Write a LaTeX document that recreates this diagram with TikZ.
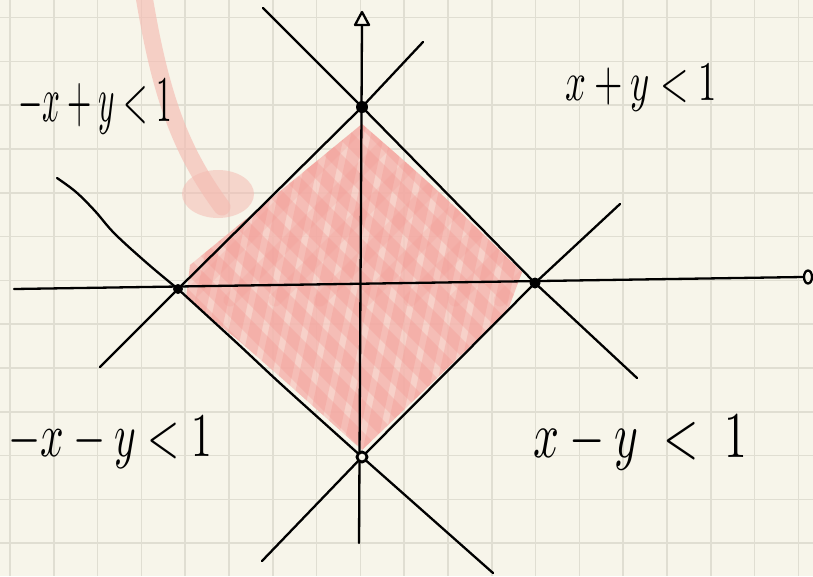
\documentclass[tikz,border=0pt]{standalone}
\usepackage{graphicx}
\definecolor{paper}{HTML}{F7F5EA}
\definecolor{gridc}{HTML}{E0DED2}
\definecolor{pinkbase}{HTML}{F7C9C1}
\definecolor{pinkstroke}{HTML}{F3928C}
\definecolor{pinkcurve}{HTML}{F4BBB2}
\tikzset{
  gridline/.style={gridc, line width=1.6pt},
  ink/.style={black, line width=2.3pt, line cap=round, line join=round},
  scribble/.style={pinkstroke, opacity=0.3, line width=13pt, line cap=round},
  vdot/.style={circle, fill=black, inner sep=0pt, minimum size=12pt},
  vring/.style={circle, draw=black, line width=2.8pt, fill=paper, inner sep=0pt, minimum size=10pt},
  lbl/.style={anchor=base west, inner sep=0pt},
}
\begin{document}
\begin{tikzpicture}[x=1pt, y=-1pt]
\useasboundingbox (0,0) rectangle (813,576);
\fill[paper] (0,0) rectangle (813,576);
% grid
\foreach \k in {0,...,18} \draw[gridline] ({10+43.8*\k},0) -- ({10+43.8*\k},576);
\foreach \k in {0,...,12} \draw[gridline] (0,{17.5+43.8*\k}) -- (813,{17.5+43.8*\k});

% key points
\coordinate (T) at (362,107);
\coordinate (R) at (535,283);
\coordinate (B) at (362,457);
\coordinate (L) at (178,289);

% red pointer curve and blob
\draw[pinkcurve, opacity=0.65, line width=17pt, line cap=round]
  (143,-10) .. controls (160,95) and (180,150) .. (222,207);
\fill[pinkcurve, opacity=0.55] (218,194) ellipse [x radius=36, y radius=24];

% red scribble fill
\begin{scope}
  \clip (362,124) .. controls (440,192) .. (522,272) -- (508,310) -- (362,450) -- (286,382) -- (238,340) -- (186,298) -- (190,265) -- cycle;
  \fill[pinkbase, opacity=0.8] (0,0) rectangle (813,576);
  \foreach \i in {0,...,18} \draw[scribble] ({165+\i*20},470) -- ({245+\i*20},100);
  \foreach \c in {-110,-78,...,260} \draw[scribble] ({100+\c},100) -- ({520+\c},520);
  \foreach \c in {440,485,...,900} \draw[scribble, opacity=0.18] ({\c-300},300) -- ({\c-100},100);
\end{scope}

% ends of the four lines
\coordinate (a1) at (263,8);   \coordinate (a2) at (637,378);
\coordinate (b1) at (423,42);  \coordinate (b2) at (100,367);
\coordinate (c1) at (57,178);  \coordinate (c2) at (493,573);
\coordinate (d1) at (620,204); \coordinate (d2) at (262,561);
\draw[ink] (a1) -- (T) -- (R) -- (a2);
\draw[ink] (b1) -- (T) -- (L) -- (b2);
\draw[ink] plot[smooth, tension=0.6] coordinates {(c1) (76,192) (95,211) (115,234) (148,264) (L)};
\draw[ink] plot[smooth, tension=0.5] coordinates {(L) (238,344) (282,385) (B)} -- (c2);
\draw[ink] (d1) -- (R) -- (B) -- (d2);

% axes
\coordinate (xs) at (14,289);
\coordinate (xe) at (803,277);
\coordinate (ys) at (359,543);
\coordinate (ye) at (362,25);
\draw[ink] (xs) -- (xe);
\draw[ink] (808,277) ellipse [x radius=4, y radius=6.5];
\draw[ink] (ys) -- (ye);
\draw[ink, fill=paper] (362,12) -- (369,25) -- (355,25) -- cycle;

% vertex dots
\node[vdot] at (T) {};
\node[vdot, minimum size=11pt] at (R) {};
\node[vdot, minimum size=10pt] at (L) {};
\node[vring] at (B) {};

% labels
\node[lbl] (l1) at (18,121) {\resizebox{154pt}{42pt}{$-x+y<1$}};
\node[lbl] (l2) at (565,100) {\resizebox{152pt}{36pt}{$x+y<1$}};
\node[lbl] (l3) at (8,456) {\resizebox{204pt}{40pt}{$-x-y<1$}};
\node[lbl] (l4) at (533,457) {\resizebox{214pt}{42pt}{$x-y\;<\;1$}};
\end{tikzpicture}
\end{document}
